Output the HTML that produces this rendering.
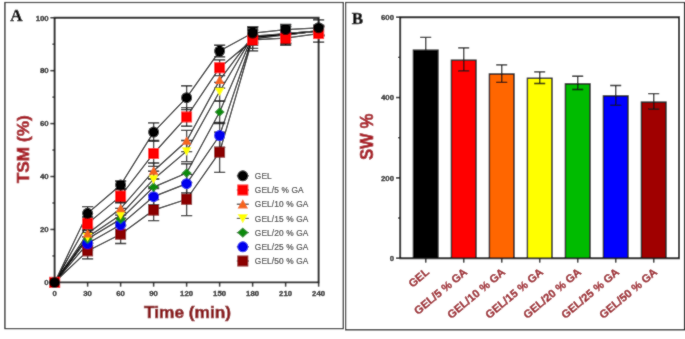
<!DOCTYPE html>
<html><head><meta charset="utf-8"><style>
html,body{margin:0;padding:0;background:#fff;}
svg{display:block;}
text{font-family:"Liberation Sans",sans-serif;}
.pl{font-family:"Liberation Serif",serif;font-weight:bold;font-size:17px;fill:#000;stroke:#000;stroke-width:0.45px;}
.tk{font-size:7.8px;font-weight:bold;fill:#222;stroke:#222;stroke-width:0.3px;}
.lg{font-size:8.3px;fill:#333;letter-spacing:0.15px;stroke:#333;stroke-width:0.15px;}
.ttl{font-weight:bold;fill:#8a1419;stroke:#8a1419;stroke-width:0.6px;}
.ttl2{font-weight:bold;fill:#a81c25;stroke:#a81c25;stroke-width:0.6px;}
.bl{font-size:11.2px;font-weight:bold;fill:#9c1f27;stroke:#9c1f27;stroke-width:0.35px;}
</style></head><body>
<svg width="685" height="339" viewBox="0 0 685 339">
<defs><filter id="bl" x="0" y="0" width="685" height="339" filterUnits="userSpaceOnUse"><feConvolveMatrix order="3" kernelMatrix="1 2 1 2 20 2 1 2 1" divisor="32" edgeMode="duplicate"/></filter></defs>
<g filter="url(#bl)">
<rect width="685" height="339" fill="#fff"/>
<rect x="4.9" y="2.5" width="338.4" height="326.1" fill="none" stroke="#000" stroke-width="1.2"/>
<rect x="345.6" y="2.5" width="338.9" height="327.3" fill="none" stroke="#000" stroke-width="1.2"/>
<text x="10.2" y="20.5" class="pl">A</text>
<text x="351.8" y="23.8" class="pl">B</text>
<path d="M54.60 17.70 H318.60 V282.40 H54.60 Z" fill="none" stroke="#111" stroke-width="1.9"/>
<line x1="50.40" y1="282.40" x2="54.60" y2="282.40" stroke="#111" stroke-width="1.5"/>
<text x="48.70" y="285.20" text-anchor="end" class="tk">0</text>
<line x1="52.40" y1="255.93" x2="54.60" y2="255.93" stroke="#111" stroke-width="1.2"/>
<line x1="50.40" y1="229.46" x2="54.60" y2="229.46" stroke="#111" stroke-width="1.5"/>
<text x="48.70" y="232.26" text-anchor="end" class="tk">20</text>
<line x1="52.40" y1="202.99" x2="54.60" y2="202.99" stroke="#111" stroke-width="1.2"/>
<line x1="50.40" y1="176.52" x2="54.60" y2="176.52" stroke="#111" stroke-width="1.5"/>
<text x="48.70" y="179.32" text-anchor="end" class="tk">40</text>
<line x1="52.40" y1="150.05" x2="54.60" y2="150.05" stroke="#111" stroke-width="1.2"/>
<line x1="50.40" y1="123.58" x2="54.60" y2="123.58" stroke="#111" stroke-width="1.5"/>
<text x="48.70" y="126.38" text-anchor="end" class="tk">60</text>
<line x1="52.40" y1="97.11" x2="54.60" y2="97.11" stroke="#111" stroke-width="1.2"/>
<line x1="50.40" y1="70.64" x2="54.60" y2="70.64" stroke="#111" stroke-width="1.5"/>
<text x="48.70" y="73.44" text-anchor="end" class="tk">80</text>
<line x1="52.40" y1="44.17" x2="54.60" y2="44.17" stroke="#111" stroke-width="1.2"/>
<line x1="50.40" y1="17.70" x2="54.60" y2="17.70" stroke="#111" stroke-width="1.5"/>
<text x="48.70" y="20.50" text-anchor="end" class="tk">100</text>
<line x1="54.60" y1="282.40" x2="54.60" y2="286.60" stroke="#111" stroke-width="1.5"/>
<text x="54.60" y="296.20" text-anchor="middle" class="tk">0</text>
<line x1="87.60" y1="282.40" x2="87.60" y2="286.60" stroke="#111" stroke-width="1.5"/>
<text x="87.60" y="296.20" text-anchor="middle" class="tk">30</text>
<line x1="120.60" y1="282.40" x2="120.60" y2="286.60" stroke="#111" stroke-width="1.5"/>
<text x="120.60" y="296.20" text-anchor="middle" class="tk">60</text>
<line x1="153.60" y1="282.40" x2="153.60" y2="286.60" stroke="#111" stroke-width="1.5"/>
<text x="153.60" y="296.20" text-anchor="middle" class="tk">90</text>
<line x1="186.60" y1="282.40" x2="186.60" y2="286.60" stroke="#111" stroke-width="1.5"/>
<text x="186.60" y="296.20" text-anchor="middle" class="tk">120</text>
<line x1="219.60" y1="282.40" x2="219.60" y2="286.60" stroke="#111" stroke-width="1.5"/>
<text x="219.60" y="296.20" text-anchor="middle" class="tk">150</text>
<line x1="252.60" y1="282.40" x2="252.60" y2="286.60" stroke="#111" stroke-width="1.5"/>
<text x="252.60" y="296.20" text-anchor="middle" class="tk">180</text>
<line x1="285.60" y1="282.40" x2="285.60" y2="286.60" stroke="#111" stroke-width="1.5"/>
<text x="285.60" y="296.20" text-anchor="middle" class="tk">210</text>
<line x1="318.60" y1="282.40" x2="318.60" y2="286.60" stroke="#111" stroke-width="1.5"/>
<text x="318.60" y="296.20" text-anchor="middle" class="tk">240</text>
<text x="144" y="317.7" class="ttl" font-size="17.3">Time (min)</text>
<text transform="translate(29.4 149.2) rotate(-90)" text-anchor="middle" class="ttl2" font-size="17.3">TSM (%)</text>
<path d="M87.60 206.70 V219.93 M82.00 206.70 H93.20 M82.00 219.93 H93.20" stroke="#111" stroke-width="1.3" fill="none"/>
<path d="M120.60 181.02 V188.96 M115.00 181.02 H126.20 M115.00 188.96 H126.20" stroke="#111" stroke-width="1.3" fill="none"/>
<path d="M153.60 122.79 V141.31 M148.00 122.79 H159.20 M148.00 141.31 H159.20" stroke="#111" stroke-width="1.3" fill="none"/>
<path d="M186.60 85.73 V109.55 M181.00 85.73 H192.20 M181.00 109.55 H192.20" stroke="#111" stroke-width="1.3" fill="none"/>
<path d="M219.60 45.23 V56.88 M214.00 45.23 H225.20 M214.00 56.88 H225.20" stroke="#111" stroke-width="1.3" fill="none"/>
<path d="M252.60 27.23 V38.88 M247.00 27.23 H258.20 M247.00 38.88 H258.20" stroke="#111" stroke-width="1.3" fill="none"/>
<path d="M285.60 24.32 V34.91 M280.00 24.32 H291.20 M280.00 34.91 H291.20" stroke="#111" stroke-width="1.3" fill="none"/>
<path d="M318.60 19.82 V35.70 M313.00 19.82 H324.20 M313.00 35.70 H324.20" stroke="#111" stroke-width="1.3" fill="none"/>
<path d="M87.60 217.02 V230.25 M82.00 217.02 H93.20 M82.00 230.25 H93.20" stroke="#111" stroke-width="1.3" fill="none"/>
<path d="M120.60 189.49 V202.73 M115.00 189.49 H126.20 M115.00 202.73 H126.20" stroke="#111" stroke-width="1.3" fill="none"/>
<path d="M153.60 140.52 V166.46 M148.00 140.52 H159.20 M148.00 166.46 H159.20" stroke="#111" stroke-width="1.3" fill="none"/>
<path d="M186.60 107.70 V126.23 M181.00 107.70 H192.20 M181.00 126.23 H192.20" stroke="#111" stroke-width="1.3" fill="none"/>
<path d="M219.60 59.79 V75.67 M214.00 59.79 H225.20 M214.00 75.67 H225.20" stroke="#111" stroke-width="1.3" fill="none"/>
<path d="M252.60 34.64 V45.23 M247.00 34.64 H258.20 M247.00 45.23 H258.20" stroke="#111" stroke-width="1.3" fill="none"/>
<path d="M285.60 32.52 V43.64 M280.00 32.52 H291.20 M280.00 43.64 H291.20" stroke="#111" stroke-width="1.3" fill="none"/>
<path d="M318.60 25.11 V42.05 M313.00 25.11 H324.20 M313.00 42.05 H324.20" stroke="#111" stroke-width="1.3" fill="none"/>
<path d="M87.60 227.08 V240.31 M82.00 227.08 H93.20 M82.00 240.31 H93.20" stroke="#111" stroke-width="1.3" fill="none"/>
<path d="M120.60 201.93 V215.17 M115.00 201.93 H126.20 M115.00 215.17 H126.20" stroke="#111" stroke-width="1.3" fill="none"/>
<path d="M153.60 163.02 V178.90 M148.00 163.02 H159.20 M148.00 178.90 H159.20" stroke="#111" stroke-width="1.3" fill="none"/>
<path d="M186.60 130.46 V151.64 M181.00 130.46 H192.20 M181.00 151.64 H192.20" stroke="#111" stroke-width="1.3" fill="none"/>
<path d="M219.60 72.23 V88.11 M214.00 72.23 H225.20 M214.00 88.11 H225.20" stroke="#111" stroke-width="1.3" fill="none"/>
<path d="M252.60 28.82 V43.64 M247.00 28.82 H258.20 M247.00 43.64 H258.20" stroke="#111" stroke-width="1.3" fill="none"/>
<path d="M285.60 25.91 V43.91 M280.00 25.91 H291.20 M280.00 43.91 H291.20" stroke="#111" stroke-width="1.3" fill="none"/>
<path d="M318.60 25.64 V36.23 M313.00 25.64 H324.20 M313.00 36.23 H324.20" stroke="#111" stroke-width="1.3" fill="none"/>
<path d="M87.60 230.25 V243.49 M82.00 230.25 H93.20 M82.00 243.49 H93.20" stroke="#111" stroke-width="1.3" fill="none"/>
<path d="M120.60 208.28 V221.52 M115.00 208.28 H126.20 M115.00 221.52 H126.20" stroke="#111" stroke-width="1.3" fill="none"/>
<path d="M153.60 171.23 V187.11 M148.00 171.23 H159.20 M148.00 187.11 H159.20" stroke="#111" stroke-width="1.3" fill="none"/>
<path d="M186.60 140.52 V161.70 M181.00 140.52 H192.20 M181.00 161.70 H192.20" stroke="#111" stroke-width="1.3" fill="none"/>
<path d="M219.60 82.29 V100.82 M214.00 82.29 H225.20 M214.00 100.82 H225.20" stroke="#111" stroke-width="1.3" fill="none"/>
<path d="M252.60 29.88 V42.58 M247.00 29.88 H258.20 M247.00 42.58 H258.20" stroke="#111" stroke-width="1.3" fill="none"/>
<path d="M285.60 26.96 V42.85 M280.00 26.96 H291.20 M280.00 42.85 H291.20" stroke="#111" stroke-width="1.3" fill="none"/>
<path d="M318.60 26.17 V35.70 M313.00 26.17 H324.20 M313.00 35.70 H324.20" stroke="#111" stroke-width="1.3" fill="none"/>
<path d="M87.60 232.37 V245.61 M82.00 232.37 H93.20 M82.00 245.61 H93.20" stroke="#111" stroke-width="1.3" fill="none"/>
<path d="M120.60 212.52 V225.75 M115.00 212.52 H126.20 M115.00 225.75 H126.20" stroke="#111" stroke-width="1.3" fill="none"/>
<path d="M153.60 179.17 V195.05 M148.00 179.17 H159.20 M148.00 195.05 H159.20" stroke="#111" stroke-width="1.3" fill="none"/>
<path d="M186.60 163.81 V182.34 M181.00 163.81 H192.20 M181.00 182.34 H192.20" stroke="#111" stroke-width="1.3" fill="none"/>
<path d="M219.60 101.35 V122.52 M214.00 101.35 H225.20 M214.00 122.52 H225.20" stroke="#111" stroke-width="1.3" fill="none"/>
<path d="M252.60 30.67 V41.79 M247.00 30.67 H258.20 M247.00 41.79 H258.20" stroke="#111" stroke-width="1.3" fill="none"/>
<path d="M285.60 26.70 V40.46 M280.00 26.70 H291.20 M280.00 40.46 H291.20" stroke="#111" stroke-width="1.3" fill="none"/>
<path d="M318.60 26.70 V35.17 M313.00 26.70 H324.20 M313.00 35.17 H324.20" stroke="#111" stroke-width="1.3" fill="none"/>
<path d="M87.60 236.87 V250.11 M82.00 236.87 H93.20 M82.00 250.11 H93.20" stroke="#111" stroke-width="1.3" fill="none"/>
<path d="M120.60 218.08 V231.31 M115.00 218.08 H126.20 M115.00 231.31 H126.20" stroke="#111" stroke-width="1.3" fill="none"/>
<path d="M153.60 188.70 V204.58 M148.00 188.70 H159.20 M148.00 204.58 H159.20" stroke="#111" stroke-width="1.3" fill="none"/>
<path d="M186.60 174.40 V192.93 M181.00 174.40 H192.20 M181.00 192.93 H192.20" stroke="#111" stroke-width="1.3" fill="none"/>
<path d="M219.60 123.58 V147.40 M214.00 123.58 H225.20 M214.00 147.40 H225.20" stroke="#111" stroke-width="1.3" fill="none"/>
<path d="M252.60 26.70 V48.41 M247.00 26.70 H258.20 M247.00 48.41 H258.20" stroke="#111" stroke-width="1.3" fill="none"/>
<path d="M285.60 29.61 V37.55 M280.00 29.61 H291.20 M280.00 37.55 H291.20" stroke="#111" stroke-width="1.3" fill="none"/>
<path d="M318.60 26.96 V34.91 M313.00 26.96 H324.20 M313.00 34.91 H324.20" stroke="#111" stroke-width="1.3" fill="none"/>
<path d="M87.60 242.96 V258.84 M82.00 242.96 H93.20 M82.00 258.84 H93.20" stroke="#111" stroke-width="1.3" fill="none"/>
<path d="M120.60 224.96 V243.49 M115.00 224.96 H126.20 M115.00 243.49 H126.20" stroke="#111" stroke-width="1.3" fill="none"/>
<path d="M153.60 199.55 V220.72 M148.00 199.55 H159.20 M148.00 220.72 H159.20" stroke="#111" stroke-width="1.3" fill="none"/>
<path d="M186.60 182.87 V215.70 M181.00 182.87 H192.20 M181.00 215.70 H192.20" stroke="#111" stroke-width="1.3" fill="none"/>
<path d="M219.60 132.05 V172.28 M214.00 132.05 H225.20 M214.00 172.28 H225.20" stroke="#111" stroke-width="1.3" fill="none"/>
<path d="M252.60 26.96 V50.79 M247.00 26.96 H258.20 M247.00 50.79 H258.20" stroke="#111" stroke-width="1.3" fill="none"/>
<path d="M285.60 24.58 V45.23 M280.00 24.58 H291.20 M280.00 45.23 H291.20" stroke="#111" stroke-width="1.3" fill="none"/>
<path d="M318.60 26.96 V34.91 M313.00 26.96 H324.20 M313.00 34.91 H324.20" stroke="#111" stroke-width="1.3" fill="none"/>
<polyline points="54.60,282.40 87.60,213.31 120.60,184.99 153.60,132.05 186.60,97.64 219.60,51.05 252.60,33.05 285.60,29.61 318.60,27.76" fill="none" stroke="#111" stroke-width="1.25"/>
<polyline points="54.60,282.40 87.60,223.64 120.60,196.11 153.60,153.49 186.60,116.96 219.60,67.73 252.60,39.93 285.60,38.08 318.60,33.58" fill="none" stroke="#111" stroke-width="1.25"/>
<polyline points="54.60,282.40 87.60,233.70 120.60,208.55 153.60,170.96 186.60,141.05 219.60,80.17 252.60,36.23 285.60,34.91 318.60,30.94" fill="none" stroke="#111" stroke-width="1.25"/>
<polyline points="54.60,282.40 87.60,236.87 120.60,214.90 153.60,179.17 186.60,151.11 219.60,91.55 252.60,36.23 285.60,34.91 318.60,30.94" fill="none" stroke="#111" stroke-width="1.25"/>
<polyline points="54.60,282.40 87.60,238.99 120.60,219.14 153.60,187.11 186.60,173.08 219.60,111.93 252.60,36.23 285.60,33.58 318.60,30.94" fill="none" stroke="#111" stroke-width="1.25"/>
<polyline points="54.60,282.40 87.60,243.49 120.60,224.70 153.60,196.64 186.60,183.67 219.60,135.49 252.60,37.55 285.60,33.58 318.60,30.94" fill="none" stroke="#111" stroke-width="1.25"/>
<polyline points="54.60,282.40 87.60,250.90 120.60,234.22 153.60,210.14 186.60,199.28 219.60,152.17 252.60,38.88 285.60,34.91 318.60,30.94" fill="none" stroke="#111" stroke-width="1.25"/>
<rect x="49.10" y="276.90" width="11.00" height="11.00" fill="#8b0000"/>
<rect x="82.10" y="245.40" width="11.00" height="11.00" fill="#8b0000"/>
<rect x="115.10" y="228.72" width="11.00" height="11.00" fill="#8b0000"/>
<rect x="148.10" y="204.64" width="11.00" height="11.00" fill="#8b0000"/>
<rect x="181.10" y="193.78" width="11.00" height="11.00" fill="#8b0000"/>
<rect x="214.10" y="146.67" width="11.00" height="11.00" fill="#8b0000"/>
<rect x="247.10" y="33.38" width="11.00" height="11.00" fill="#8b0000"/>
<rect x="280.10" y="29.41" width="11.00" height="11.00" fill="#8b0000"/>
<rect x="313.10" y="25.44" width="11.00" height="11.00" fill="#8b0000"/>
<circle cx="54.60" cy="282.40" r="5.50" fill="#0000ee"/>
<circle cx="87.60" cy="243.49" r="5.50" fill="#0000ee"/>
<circle cx="120.60" cy="224.70" r="5.50" fill="#0000ee"/>
<circle cx="153.60" cy="196.64" r="5.50" fill="#0000ee"/>
<circle cx="186.60" cy="183.67" r="5.50" fill="#0000ee"/>
<circle cx="219.60" cy="135.49" r="5.50" fill="#0000ee"/>
<circle cx="252.60" cy="37.55" r="5.50" fill="#0000ee"/>
<circle cx="285.60" cy="33.58" r="5.50" fill="#0000ee"/>
<circle cx="318.60" cy="30.94" r="5.50" fill="#0000ee"/>
<path d="M54.60 277.60 L59.60 282.40 L54.60 287.20 L49.60 282.40 Z" fill="#108a10"/>
<path d="M87.60 234.19 L92.60 238.99 L87.60 243.79 L82.60 238.99 Z" fill="#108a10"/>
<path d="M120.60 214.34 L125.60 219.14 L120.60 223.94 L115.60 219.14 Z" fill="#108a10"/>
<path d="M153.60 182.31 L158.60 187.11 L153.60 191.91 L148.60 187.11 Z" fill="#108a10"/>
<path d="M186.60 168.28 L191.60 173.08 L186.60 177.88 L181.60 173.08 Z" fill="#108a10"/>
<path d="M219.60 107.13 L224.60 111.93 L219.60 116.73 L214.60 111.93 Z" fill="#108a10"/>
<path d="M252.60 31.43 L257.60 36.23 L252.60 41.03 L247.60 36.23 Z" fill="#108a10"/>
<path d="M285.60 28.78 L290.60 33.58 L285.60 38.38 L280.60 33.58 Z" fill="#108a10"/>
<path d="M318.60 26.14 L323.60 30.94 L318.60 35.73 L313.60 30.94 Z" fill="#108a10"/>
<path d="M54.60 287.20 L59.50 278.60 L49.70 278.60 Z" fill="#ffff00"/>
<path d="M87.60 241.67 L92.50 233.07 L82.70 233.07 Z" fill="#ffff00"/>
<path d="M120.60 219.70 L125.50 211.10 L115.70 211.10 Z" fill="#ffff00"/>
<path d="M153.60 183.97 L158.50 175.37 L148.70 175.37 Z" fill="#ffff00"/>
<path d="M186.60 155.91 L191.50 147.31 L181.70 147.31 Z" fill="#ffff00"/>
<path d="M219.60 96.35 L224.50 87.75 L214.70 87.75 Z" fill="#ffff00"/>
<path d="M252.60 41.03 L257.50 32.43 L247.70 32.43 Z" fill="#ffff00"/>
<path d="M285.60 39.71 L290.50 31.11 L280.70 31.11 Z" fill="#ffff00"/>
<path d="M318.60 35.73 L323.50 27.14 L313.70 27.14 Z" fill="#ffff00"/>
<path d="M54.60 277.60 L59.50 286.20 L49.70 286.20 Z" fill="#f5651c"/>
<path d="M87.60 228.90 L92.50 237.50 L82.70 237.50 Z" fill="#f5651c"/>
<path d="M120.60 203.75 L125.50 212.35 L115.70 212.35 Z" fill="#f5651c"/>
<path d="M153.60 166.16 L158.50 174.76 L148.70 174.76 Z" fill="#f5651c"/>
<path d="M186.60 136.25 L191.50 144.85 L181.70 144.85 Z" fill="#f5651c"/>
<path d="M219.60 75.37 L224.50 83.97 L214.70 83.97 Z" fill="#f5651c"/>
<path d="M252.60 31.43 L257.50 40.03 L247.70 40.03 Z" fill="#f5651c"/>
<path d="M285.60 30.11 L290.50 38.71 L280.70 38.71 Z" fill="#f5651c"/>
<path d="M318.60 26.14 L323.50 34.73 L313.70 34.73 Z" fill="#f5651c"/>
<rect x="49.10" y="276.90" width="11.00" height="11.00" fill="#ff0000"/>
<rect x="82.10" y="218.14" width="11.00" height="11.00" fill="#ff0000"/>
<rect x="115.10" y="190.61" width="11.00" height="11.00" fill="#ff0000"/>
<rect x="148.10" y="147.99" width="11.00" height="11.00" fill="#ff0000"/>
<rect x="181.10" y="111.46" width="11.00" height="11.00" fill="#ff0000"/>
<rect x="214.10" y="62.23" width="11.00" height="11.00" fill="#ff0000"/>
<rect x="247.10" y="34.43" width="11.00" height="11.00" fill="#ff0000"/>
<rect x="280.10" y="32.58" width="11.00" height="11.00" fill="#ff0000"/>
<rect x="313.10" y="28.08" width="11.00" height="11.00" fill="#ff0000"/>
<circle cx="54.60" cy="282.40" r="5.50" fill="#000000"/>
<circle cx="87.60" cy="213.31" r="5.50" fill="#000000"/>
<circle cx="120.60" cy="184.99" r="5.50" fill="#000000"/>
<circle cx="153.60" cy="132.05" r="5.50" fill="#000000"/>
<circle cx="186.60" cy="97.64" r="5.50" fill="#000000"/>
<circle cx="219.60" cy="51.05" r="5.50" fill="#000000"/>
<circle cx="252.60" cy="33.05" r="5.50" fill="#000000"/>
<circle cx="285.60" cy="29.61" r="5.50" fill="#000000"/>
<circle cx="318.60" cy="27.76" r="5.50" fill="#000000"/>
<line x1="236.80" y1="175.80" x2="248.80" y2="175.80" stroke="#222" stroke-width="1.1"/>
<circle cx="242.80" cy="175.80" r="5.50" fill="#000000"/>
<text x="254.8" y="178.90" class="lg">GEL</text>
<line x1="236.80" y1="190.00" x2="248.80" y2="190.00" stroke="#222" stroke-width="1.1"/>
<rect x="237.30" y="184.50" width="11.00" height="11.00" fill="#ff0000"/>
<text x="254.8" y="193.10" class="lg">GEL/5 % GA</text>
<line x1="236.80" y1="204.20" x2="248.80" y2="204.20" stroke="#222" stroke-width="1.1"/>
<path d="M242.80 199.25 L248.03 208.60 L237.58 208.60 Z" fill="#f5651c"/>
<text x="254.8" y="207.30" class="lg">GEL/10 % GA</text>
<line x1="236.80" y1="218.40" x2="248.80" y2="218.40" stroke="#222" stroke-width="1.1"/>
<path d="M242.80 223.35 L248.03 214.00 L237.58 214.00 Z" fill="#ffff00"/>
<text x="254.8" y="221.50" class="lg">GEL/15 % GA</text>
<line x1="236.80" y1="232.60" x2="248.80" y2="232.60" stroke="#222" stroke-width="1.1"/>
<path d="M242.80 227.38 L248.58 232.60 L242.80 237.83 L237.03 232.60 Z" fill="#108a10"/>
<text x="254.8" y="235.70" class="lg">GEL/20 % GA</text>
<line x1="236.80" y1="246.80" x2="248.80" y2="246.80" stroke="#222" stroke-width="1.1"/>
<circle cx="242.80" cy="246.80" r="5.50" fill="#0000ee"/>
<text x="254.8" y="249.90" class="lg">GEL/25 % GA</text>
<line x1="236.80" y1="261.00" x2="248.80" y2="261.00" stroke="#222" stroke-width="1.1"/>
<rect x="237.30" y="255.50" width="11.00" height="11.00" fill="#8b0000"/>
<text x="254.8" y="264.10" class="lg">GEL/50 % GA</text>
<path d="M400.20 17.21 H679.00 V258.20 H400.20 Z" fill="none" stroke="#111" stroke-width="1.9"/>
<line x1="396.00" y1="258.20" x2="400.20" y2="258.20" stroke="#111" stroke-width="1.5"/>
<text x="394.00" y="261.00" text-anchor="end" class="tk">0</text>
<line x1="398.00" y1="218.03" x2="400.20" y2="218.03" stroke="#111" stroke-width="1.2"/>
<line x1="396.00" y1="177.87" x2="400.20" y2="177.87" stroke="#111" stroke-width="1.5"/>
<text x="394.00" y="180.67" text-anchor="end" class="tk">200</text>
<line x1="398.00" y1="137.70" x2="400.20" y2="137.70" stroke="#111" stroke-width="1.2"/>
<line x1="396.00" y1="97.54" x2="400.20" y2="97.54" stroke="#111" stroke-width="1.5"/>
<text x="394.00" y="100.34" text-anchor="end" class="tk">400</text>
<line x1="398.00" y1="57.37" x2="400.20" y2="57.37" stroke="#111" stroke-width="1.2"/>
<line x1="396.00" y1="17.21" x2="400.20" y2="17.21" stroke="#111" stroke-width="1.5"/>
<text x="394.00" y="20.01" text-anchor="end" class="tk">600</text>
<text transform="translate(373.2 136.8) rotate(-90) scale(0.9 1)" text-anchor="middle" class="ttl2" font-size="18.6">SW %</text>
<rect x="413.40" y="50.15" width="24.60" height="208.05" fill="#000000" stroke="#111" stroke-width="1.4"/>
<path d="M425.70 37.29 V50.15 M420.20 37.29 H431.20" stroke="#111" stroke-width="1.3" fill="none"/>
<line x1="425.70" y1="258.20" x2="425.70" y2="262.60" stroke="#111" stroke-width="1.5"/>
<text transform="translate(430.00 273.20) rotate(-40)" text-anchor="end" class="bl">GEL</text>
<rect x="451.40" y="60.19" width="24.60" height="198.01" fill="#ff0000" stroke="#111" stroke-width="1.4"/>
<path d="M463.70 47.90 V60.19 M458.20 47.90 H469.20" stroke="#111" stroke-width="1.3" fill="none"/>
<path d="M463.70 60.19 V70.83 M458.20 70.83 H469.20" stroke="#111" stroke-width="1.3" fill="none"/>
<line x1="463.70" y1="258.20" x2="463.70" y2="262.60" stroke="#111" stroke-width="1.5"/>
<text transform="translate(468.00 273.20) rotate(-40)" text-anchor="end" class="bl">GEL/5 % GA</text>
<rect x="489.40" y="74.00" width="24.60" height="184.20" fill="#ff6600" stroke="#111" stroke-width="1.4"/>
<path d="M501.70 64.85 V74.00 M496.20 64.85 H507.20" stroke="#111" stroke-width="1.3" fill="none"/>
<path d="M501.70 74.00 V82.40 M496.20 82.40 H507.20" stroke="#111" stroke-width="1.3" fill="none"/>
<line x1="501.70" y1="258.20" x2="501.70" y2="262.60" stroke="#111" stroke-width="1.5"/>
<text transform="translate(506.00 273.20) rotate(-40)" text-anchor="end" class="bl">GEL/10 % GA</text>
<rect x="527.40" y="78.26" width="24.60" height="179.94" fill="#ffff00" stroke="#111" stroke-width="1.4"/>
<path d="M539.70 71.83 V78.26 M534.20 71.83 H545.20" stroke="#111" stroke-width="1.3" fill="none"/>
<path d="M539.70 78.26 V83.48 M534.20 83.48 H545.20" stroke="#111" stroke-width="1.3" fill="none"/>
<line x1="539.70" y1="258.20" x2="539.70" y2="262.60" stroke="#111" stroke-width="1.5"/>
<text transform="translate(544.00 273.20) rotate(-40)" text-anchor="end" class="bl">GEL/15 % GA</text>
<rect x="565.40" y="83.88" width="24.60" height="174.32" fill="#00bb00" stroke="#111" stroke-width="1.4"/>
<path d="M577.70 76.25 V83.88 M572.20 76.25 H583.20" stroke="#111" stroke-width="1.3" fill="none"/>
<path d="M577.70 83.88 V89.51 M572.20 89.51 H583.20" stroke="#111" stroke-width="1.3" fill="none"/>
<line x1="577.70" y1="258.20" x2="577.70" y2="262.60" stroke="#111" stroke-width="1.5"/>
<text transform="translate(582.00 273.20) rotate(-40)" text-anchor="end" class="bl">GEL/20 % GA</text>
<rect x="603.40" y="95.93" width="24.60" height="162.27" fill="#0000ff" stroke="#111" stroke-width="1.4"/>
<path d="M615.70 85.49 V95.93 M610.20 85.49 H621.20" stroke="#111" stroke-width="1.3" fill="none"/>
<path d="M615.70 95.93 V105.33 M610.20 105.33 H621.20" stroke="#111" stroke-width="1.3" fill="none"/>
<line x1="615.70" y1="258.20" x2="615.70" y2="262.60" stroke="#111" stroke-width="1.5"/>
<text transform="translate(620.00 273.20) rotate(-40)" text-anchor="end" class="bl">GEL/25 % GA</text>
<rect x="641.40" y="102.12" width="24.60" height="156.08" fill="#a00000" stroke="#111" stroke-width="1.4"/>
<path d="M653.70 93.72 V102.12 M648.20 93.72 H659.20" stroke="#111" stroke-width="1.3" fill="none"/>
<path d="M653.70 102.12 V109.19 M648.20 109.19 H659.20" stroke="#111" stroke-width="1.3" fill="none"/>
<line x1="653.70" y1="258.20" x2="653.70" y2="262.60" stroke="#111" stroke-width="1.5"/>
<text transform="translate(658.00 273.20) rotate(-40)" text-anchor="end" class="bl">GEL/50 % GA</text>
</g>
</svg>
</body></html>
